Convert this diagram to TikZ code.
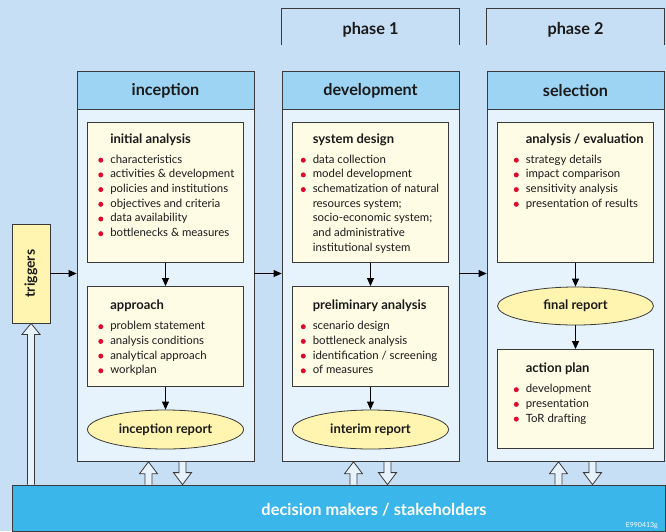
\documentclass[tikz,border=0pt]{standalone}
\usepackage{fontspec}
\usepackage{graphicx}
\setmainfont{Lato}
\usetikzlibrary{arrows.meta,calc,positioning,shapes.geometric}

\definecolor{bgblue}{HTML}{C6DFF5}
\definecolor{hdrblue}{HTML}{9DD3F3}
\definecolor{colblue}{HTML}{E6F2FC}
\definecolor{cream}{HTML}{FFFCE6}
\definecolor{lemon}{HTML}{FFF5B0}
\definecolor{barblue}{HTML}{3BB6EA}
\definecolor{dotred}{HTML}{DC0A2D}
\definecolor{edgegray}{HTML}{3A3A3A}
\definecolor{inkgray}{HTML}{1A1A1A}

% bullet list helpers
\newcommand{\bl}{\tikz[baseline=-3pt]\fill[dotred] (0pt,0pt) circle (2.5pt);}
\newcommand{\hd}[1]{& {\fontsize{13}{15}\selectfont\bfseries #1}\\[5pt]}
\newcommand{\itm}[1]{\bl & #1\\}
% hollow arrow: tail, tip, signed head length
\newcommand{\fatarrow}[3]{\draw[hollow] ($(#1)+(-3.5,0)$) -- ($(#2)+(-3.5,#3)$) -- ($(#2)+(-9,#3)$) -- (#2) -- ($(#2)+(9,#3)$) -- ($(#2)+(3.5,#3)$) -- ($(#1)+(3.5,0)$);}

\begin{document}
\begin{tikzpicture}[x=1pt,y=-1pt,
  every node/.style={text=inkgray},
  edge/.style={draw=edgegray,line width=0.8pt},
  col/.style={edge,fill=colblue,minimum width=177pt,minimum height=390pt,anchor=north,inner sep=0},
  hdr/.style={edge,fill=hdrblue,minimum width=177pt,minimum height=38pt,anchor=north,font=\fontsize{16.2}{18}\selectfont\bfseries},
  phase/.style={font=\fontsize{16.3}{18}\selectfont\bfseries},
  box/.style={edge,fill=cream,minimum width=156pt,anchor=north,inner sep=0},
  txt/.style={anchor=north west,inner sep=0,font=\fontsize{11.4}{14.7}\selectfont},
  ell/.style={ellipse,edge,fill=lemon,minimum width=156pt,minimum height=39pt,inner sep=0,font=\fontsize{13}{15}\selectfont\bfseries},
  trigbox/.style={edge,fill=lemon,minimum width=38pt,minimum height=99pt,inner sep=0,font=\fontsize{14}{16}\selectfont\bfseries},
  bar/.style={edge,fill=barblue,minimum width=653pt,minimum height=46pt,inner sep=0},
  arr/.style={draw=black,line width=0.8pt,-{Triangle[length=8pt,width=7pt]}},
  hollow/.style={edge,fill=colblue,line join=miter}]

\fill[bgblue] (0,0) rectangle (666,531);
\useasboundingbox (0,0) rectangle (666,531);

% columns
\node[col] (incep) at (165.5,71) {};
\node[hdr] (incepH) at (incep.north) {inception};
\node[col] (devel) at (370.5,71) {};
\node[hdr] (develH) at (devel.north) {development};
\node[col] (selec) at (575.5,71) {};
\node[hdr] (selecH) at (selec.north) {selection};

% phases
\draw[edge] (devel.north west) ++(0,-26) -- ++(0,-37) -| ($(devel.north east)+(0,-26)$);
\draw[edge] (selec.north west) ++(0,-26) -- ++(0,-37) -| ($(selec.north east)+(0,-26)$);
\node[phase] (ph1) at ($(devel.north)+(0,-41)$) {phase 1};
\node[phase] (ph2) at ($(selec.north)+(0,-41)$) {phase 2};

% inception
\node[box,minimum height=140pt] (iana) at (165.5,122) {};
\node[txt] (ianaT) at ($(iana.north west)+(11,11)$) {\begin{tabular}{@{}c@{\hspace{7pt}}l@{}}
  \hd{initial analysis}
  \itm{characteristics}
  \itm{activities \& development}
  \itm{policies and institutions}
  \itm{objectives and criteria}
  \itm{data availability}
  \itm{bottlenecks \& measures}
\end{tabular}};
\node[box,minimum height=100pt] (appr) at (165.5,286) {};
\node[txt] (apprT) at ($(appr.north west)+(11,13.5)$) {\begin{tabular}{@{}c@{\hspace{7pt}}l@{}}
  \hd{approach}
  \itm{problem statement}
  \itm{analysis conditions}
  \itm{analytical approach}
  \itm{workplan}
\end{tabular}};
\node[ell] (irep) at (165.5,429.5) {inception report};

% development
\node[box,minimum height=140pt] (sdes) at (370.5,122) {};
\node[txt] (sdesT) at ($(sdes.north west)+(8.5,11)$) {\begin{tabular}{@{}c@{\hspace{7pt}}l@{}}
  \hd{system design}
  \itm{data collection}
  \itm{model development}
  \itm{schematization of natural}
  & resources system;\\
  & socio-economic system;\\
  & and administrative\\
  & institutional system\\
\end{tabular}};
\node[box,minimum height=100pt] (pana) at (370.5,286) {};
\node[txt] (panaT) at ($(pana.north west)+(8.5,13.5)$) {\begin{tabular}{@{}c@{\hspace{7pt}}l@{}}
  \hd{preliminary analysis}
  \itm{scenario design}
  \itm{bottleneck analysis}
  \itm{identification / screening}
  \itm{of measures}
\end{tabular}};
\node[ell] (mrep) at (370.5,429.5) {interim report};

% selection
\node[box,minimum height=140pt] (aeva) at (575.5,122) {};
\node[txt] (aevaT) at ($(aeva.north west)+(16.5,11)$) {\begin{tabular}{@{}c@{\hspace{7pt}}l@{}}
  \hd{analysis / evaluation}
  \itm{strategy details}
  \itm{impact comparison}
  \itm{sensitivity analysis}
  \itm{presentation of results}
\end{tabular}};
\node[ell,minimum height=38pt] (frep) at (575.5,306) {final report};
\node[box,minimum height=99pt] (apln) at (575.5,349) {};
\node[txt] (aplnT) at ($(apln.north west)+(16.5,13.5)$) {\begin{tabular}{@{}c@{\hspace{7pt}}l@{}}
  \hd{action plan}
  \itm{development}
  \itm{presentation}
  \itm{ToR drafting}
\end{tabular}};

% triggers and decision makers
\node[trigbox] (trig) at (31,273.5) {\rotatebox{90}{triggers}};
\node[bar] (dm) at (338.5,508) {};
\node[text=white,font=\fontsize{16.4}{18}\selectfont\bfseries] (dmT) at ($(dm.center)+(35.5,2)$) {decision makers / stakeholders};
\node[text=white,font=\fontsize{7}{8}\selectfont,anchor=east] (code) at ($(dm.south east)+(-4,-6)$) {E990413g};

% flow
\draw[arr] (iana) -- (appr);
\draw[arr] (appr) -- (irep);
\draw[arr] (sdes) -- (pana);
\draw[arr] (pana) -- (mrep);
\draw[arr] (aeva) -- (frep);
\draw[arr] (frep) -- (apln);
\draw[arr] (trig) -- (trig -| incep.west);
\draw[arr] (incep.east |- trig) -- (devel.west |- trig);
\draw[arr] (devel.east |- trig) -- (selec.west |- trig);

% exchange with decision makers
\coordinate (tb) at (trig.south |- dm.north);
\fatarrow{tb}{trig.south}{11}
\foreach \c in {incep,devel,selec}{
  \coordinate (\c u) at ($(\c.south)+(-17,0)$);
  \coordinate (\c ub) at (\c u |- dm.north);
  \coordinate (\c d) at ($(\c.south)+(17,0)$);
  \coordinate (\c db) at (\c d |- dm.north);
  \fatarrow{\c ub}{\c u}{12}
  \fatarrow{\c d}{\c db}{-12}
}

\end{tikzpicture}
\end{document}
